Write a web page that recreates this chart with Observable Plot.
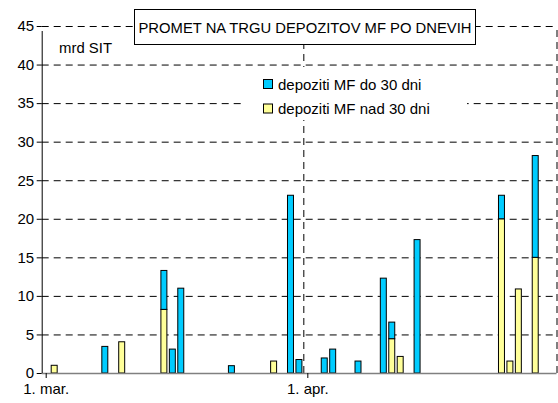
<!DOCTYPE html>
<html>
<head>
<meta charset="utf-8">
<script src="https://cdn.jsdelivr.net/npm/d3@7"></script>
<script src="https://cdn.jsdelivr.net/npm/@observablehq/plot@0.6"></script>
<style>
  html, body { margin: 0; padding: 0; background: white; }
</style>
</head>
<body>
<div id="chart"></div>
<script>
// ---- data ----
const days = ["2003-03-02","2003-03-08","2003-03-10","2003-03-15","2003-03-16","2003-03-17",
              "2003-03-23","2003-03-28","2003-03-30","2003-03-31","2003-04-03","2003-04-04",
              "2003-04-07","2003-04-10","2003-04-11","2003-04-12","2003-04-14","2003-04-24",
              "2003-04-25","2003-04-26","2003-04-28"];
const do30  = [0, 3.45, 0, 5.05, 3.1, 11.0, 0.95, 0, 23.05, 1.75, 1.95, 3.1, 1.55, 12.3, 2.15, 0, 17.3, 3.05, 0, 0, 13.2];
const nad30 = [1.0, 0, 4.05, 8.25, 0, 0, 0, 1.55, 0, 0, 0, 0, 0, 0, 4.45, 2.15, 0, 20.0, 1.55, 10.9, 15.0];
const yTicks = [0, 5, 10, 15, 20, 25, 30, 35, 40, 45];
const monthTicks = ["2003-03-01", "2003-04-01", "2003-05-01"];
const monthLabels = ["1. mar.", "1. apr.", ""];
const seriesNames = ["depoziti MF do 30 dni", "depoziti MF nad 30 dni"];
const seriesColors = ["#00CCFF", "#FFFF99"];
const title = "PROMET NA TRGU DEPOZITOV MF PO DNEVIH";
const unitLabel = "mrd SIT";

const rows = days.map((d, i) => ({date: new Date(d), do: do30[i], nad: nad30[i]}));
const mTicks = monthTicks.map(d => new Date(d));
const x1f = r => d3.utcHour.offset(r.date, 3.8);
const x2f = r => d3.utcHour.offset(r.date, 20.2);

const chart = Plot.plot({
  width: 558,
  height: 403,
  marginLeft: 41.7,
  marginRight: 1.5,
  marginTop: 26,
  marginBottom: 30,
  style: {fontFamily: "'Liberation Sans', Arial, sans-serif", fontSize: "15px", background: "white", color: "black"},
  x: {type: "utc", domain: [mTicks[0], mTicks[2]]},
  y: {domain: [0, 45]},
  marks: [
    Plot.ruleY(yTicks.filter(v => v > 0), {stroke: "black", strokeDasharray: "7,5", strokeWidth: 1}),
    Plot.ruleX(mTicks.slice(1), {y1: 0, y2: 45, stroke: "black", strokeDasharray: "7,5", strokeWidth: 1}),
    Plot.rect(rows.filter(r => r.nad > 0), {x1: x1f, x2: x2f, y1: 0, y2: "nad", fill: seriesColors[1], stroke: "black", strokeWidth: 1}),
    Plot.rect(rows.filter(r => r.do > 0), {x1: x1f, x2: x2f, y1: "nad", y2: r => r.nad + r.do, fill: seriesColors[0], stroke: "black", strokeWidth: 1}),
    Plot.ruleY([0], {stroke: "#808080", strokeWidth: 1.5}),
    Plot.ruleX([mTicks[0]], {y1: 0, y2: 45, stroke: "black", strokeWidth: 1, insetBottom: -5}),
    Plot.axisY({ticks: yTicks, tickSize: 5, tickPadding: 3, label: null, tickFormat: d => String(d), fontSize: 15}),
    Plot.axisX({ticks: mTicks, tickSize: 5, tickPadding: 5, label: null, dx: 4,
                tickFormat: d => monthLabels[mTicks.findIndex(t => +t === +d)], fontSize: 15})
  ]
});

document.getElementById("chart").appendChild(chart);

const svg = d3.select(chart);
// title box
const tg = svg.append("g");
tg.append("rect").attr("x", 134.5).attr("y", 9.5).attr("width", 341).attr("height", 35)
  .attr("fill", "white").attr("stroke", "black").attr("stroke-width", 1);
tg.append("text").attr("x", 305).attr("y", 32.5).attr("text-anchor", "middle")
  .attr("font-size", 15).attr("textLength", 333).attr("lengthAdjust", "spacingAndGlyphs")
  .attr("fill", "black").text(title);

// unit label
svg.append("text").attr("x", 59).attr("y", 53).attr("font-size", 15).attr("fill", "black")
  .attr("text-anchor", "start")
  .attr("textLength", 53).attr("lengthAdjust", "spacingAndGlyphs").text(unitLabel);

// legend
const lg = svg.append("g");
lg.append("rect").attr("x", 243).attr("y", 67).attr("width", 224).attr("height", 53).attr("fill", "white");
seriesNames.forEach((name, i) => {
  const cy = 84 + i * 24.5;
  lg.append("rect").attr("x", 263.5).attr("y", cy - 4.5).attr("width", 9).attr("height", 9)
    .attr("fill", seriesColors[i]).attr("stroke", "black").attr("stroke-width", 1);
  lg.append("text").attr("x", 278).attr("y", cy + 5.5).attr("font-size", 15).attr("fill", "black")
    .attr("text-anchor", "start").text(name);
});
</script>
</body>
</html>
